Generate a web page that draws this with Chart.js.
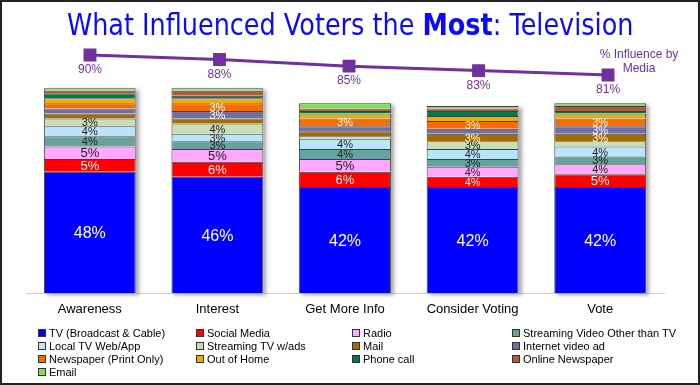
<!DOCTYPE html>
<html>
<head>
<meta charset="utf-8">
<script src="https://cdn.jsdelivr.net/npm/chart.js@4"></script>
<style>
  body { margin: 0; background: #fff; }
  #wrap { position: relative; width: 700px; height: 385px; overflow: hidden; font-family: "Liberation Sans", sans-serif; }
  #frame { position: absolute; left: 0; top: 0; width: 700px; height: 385px; border: 2px solid #222; box-sizing: border-box; pointer-events: none; }
  #title { position: absolute; left: 0; top: 10px; width: 700px; text-align: center; line-height: 30px; }
  #title span { display: inline-block; font-family: "DejaVu Sans", sans-serif; font-size: 30px; color: #0a0aff; transform: scaleX(0.85); white-space: nowrap; }
  #seriesName { position: absolute; left: 589px; top: 47px; width: 100px; text-align: center; color: #7030a0; font-size: 12px; line-height: 14px; }
  #legend div { position: absolute; font-size: 11px; color: #000; white-space: nowrap; line-height: 13px; }
  #legend span { display: inline-block; width: 6px; height: 6px; border: 1px solid #333; margin-right: 3px; vertical-align: 0px; }
</style>
</head>
<body>
<div id="wrap">
  <canvas id="chart" width="700" height="385"></canvas>
  <div id="title"><span>What Influenced Voters the <b>Most</b>: Television</span></div>
  <div id="seriesName">% Influence by<br>Media</div>
  <div id="legend"></div>
  <div id="frame"></div>
</div>
<script>
const categories = ["Awareness", "Interest", "Get More Info", "Consider Voting", "Vote"];

// stacked segments, bottom to top (percent)
const tv = [48, 46, 42, 42, 42];
const socialMedia = [5, 6, 6, 4, 5];
const radio = [5, 5, 5, 4, 4];
const streamingVideo = [4, 3, 4, 3, 3];
const localTv = [4, 3, 4, 4, 4];
const streamingTvAds = [3, 4, 1, 3, 2];
const mail = [2, 2, 2, 3, 3];
const internetVideo = [2, 3, 2, 2, 3];
const newspaper = [2, 3, 3, 3, 3];
const outOfHome = [2, 2, 2, 2, 2];
const phoneCall = [2, 1, 1, 2, 1];
const onlineNewspaper = [1, 2, 1, 1, 2];
const email = [1, 1, 2, 1, 1];

// % influence by media (line)
const influence = [90, 88, 85, 83, 81];

const series = [
  { label: "TV (Broadcast & Cable)", data: tv, color: "#0000ff", text: "#fff" },
  { label: "Social Media", data: socialMedia, color: "#ff0000", text: "#fff" },
  { label: "Radio", data: radio, color: "#ffa8ff", text: "#222" },
  { label: "Streaming Video Other than TV", data: streamingVideo, color: "#66a39e", text: "#222" },
  { label: "Local TV Web/App", data: localTv, color: "#bbe5fa", text: "#222" },
  { label: "Streaming TV w/ads", data: streamingTvAds, color: "#c8e0b4", text: "#222" },
  { label: "Mail", data: mail, color: "#a46b00", text: "#fff" },
  { label: "Internet video ad", data: internetVideo, color: "#7070a8", text: "#fff" },
  { label: "Newspaper (Print Only)", data: newspaper, color: "#ff6a00", text: "#fff" },
  { label: "Out of Home", data: outOfHome, color: "#e8b000", text: "#fff" },
  { label: "Phone call", data: phoneCall, color: "#007a4a", text: "#fff" },
  { label: "Online Newspaper", data: onlineNewspaper, color: "#b45a3a", text: "#fff" },
  { label: "Email", data: email, color: "#80e050", text: "#222" }
];

const lineColor = "#7030a0";

// soft shadow behind each stacked column
const columnShadow = {
  id: "columnShadow",
  beforeDatasetsDraw(chart) {
    const first = chart.getDatasetMeta(0).data;
    const last = chart.getDatasetMeta(series.length - 1).data;
    const ctx = chart.ctx;
    ctx.save();
    ctx.fillStyle = "#fff";
    ctx.shadowColor = "rgba(0,0,0,0.35)";
    ctx.shadowBlur = 4;
    ctx.shadowOffsetX = 3;
    ctx.shadowOffsetY = 2;
    first.forEach((bar, j) => {
      const top = last[j].y;
      ctx.fillRect(bar.x - bar.width / 2, top, bar.width, bar.base - top);
    });
    ctx.restore();
  }
};

// percent labels inside segments + under line points
const valueLabels = {
  id: "valueLabels",
  afterDatasetsDraw(chart) {
    const ctx = chart.ctx;
    ctx.save();
    ctx.textAlign = "center";
    ctx.textBaseline = "middle";
    chart.data.datasets.forEach((ds, i) => {
      const meta = chart.getDatasetMeta(i);
      meta.data.forEach((el, j) => {
        if (ds.type === "line") {
          ctx.font = '12px "Liberation Sans"';
          ctx.fillStyle = lineColor;
          ctx.fillText(influence[j] + "%", el.x, el.y + 15);
          return;
        }
        const v = ds.data[j];
        if (v < 3) return;
        const size = v >= 40 ? 16 : v >= 5 ? 13 : 11;
        ctx.font = size + 'px "Liberation Sans"';
        ctx.fillStyle = ds.labelColor;
        ctx.fillText(v + "%", el.x, (el.y + el.base) / 2 + 1);
      });
    });
    ctx.restore();
  }
};

const datasets = series.map(s => ({
  type: "bar",
  label: s.label,
  data: s.data,
  backgroundColor: s.color,
  borderColor: "#404040",
  borderWidth: 1,
  labelColor: s.text,
  grouped: false,
  yAxisID: "y",
  order: 2
}));

datasets.push({
  type: "line",
  label: "% Influence by Media",
  data: influence.map((v, i) => ({ x: i, y: v })),
  borderColor: lineColor,
  backgroundColor: lineColor,
  borderWidth: 3,
  pointStyle: "rect",
  pointRadius: 7,
  xAxisID: "x2",
  yAxisID: "y2",
  order: 0
});

new Chart(document.getElementById("chart"), {
  data: { labels: categories, datasets },
  options: {
    responsive: false,
    animation: false,
    layout: { padding: { top: 40, left: 26, right: 36, bottom: 68 } },
    plugins: { legend: { display: false }, tooltip: { enabled: false } },
    datasets: { bar: { barPercentage: 0.72, categoryPercentage: 1 } },
    scales: {
      x: {
        stacked: true,
        grid: { display: false },
        border: { color: "#d0d0d0" },
        ticks: { color: "#000", padding: 0, font: { family: "Liberation Sans", size: 13 } }
      },
      x2: { type: "linear", display: false, min: -0.494, max: 4.432 },
      y: { stacked: true, display: false, min: 0, max: 100 },
      y2: { display: false, min: -17.1, max: 96.75 }
    }
  },
  plugins: [columnShadow, valueLabels]
});

// legend grid, 4 columns
const colX = [38, 196, 352, 512];
const rowY = [327, 340, 353, 366];
const legendEl = document.getElementById("legend");
series.forEach((s, i) => {
  const d = document.createElement("div");
  d.style.left = colX[i % 4] + "px";
  d.style.top = rowY[Math.floor(i / 4)] + "px";
  d.innerHTML = '<span style="background:' + s.color + '"></span>' + s.label;
  legendEl.appendChild(d);
});
</script>
</body>
</html>
